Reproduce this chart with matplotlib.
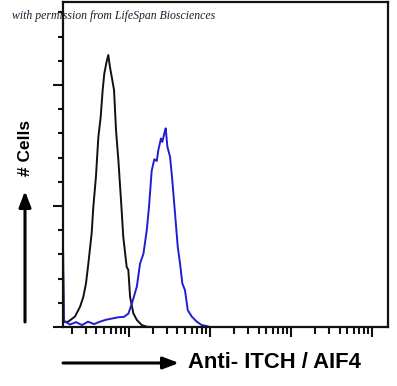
import matplotlib
matplotlib.use("Agg")
import matplotlib.pyplot as plt
from matplotlib.ticker import FixedLocator, NullFormatter, LogLocator, MultipleLocator
from matplotlib.patches import FancyArrowPatch

# ---- data ----
# isotype control (black): fluorescence intensity and cell count (relative units)
ctrl_x = [1.55, 1.58, 1.64, 1.79, 2.17, 2.51, 2.75, 2.97, 3.17, 3.49, 3.66, 3.94, 4.22,
          4.51, 4.77, 5.00, 5.35, 5.60, 5.87, 6.17, 6.59, 6.97, 7.45, 8.03, 8.57,
          9.44, 9.89, 10.4, 11.4, 12.6, 14.5, 16.8, 20.0]
ctrl_y = [3.10, 0.25, 0.20, 0.22, 0.43, 0.84, 1.24, 1.80, 2.60, 3.88, 4.97, 6.21, 7.85,
          8.68, 9.79, 10.48, 10.98, 11.24, 10.74, 10.34, 9.79, 8.14, 6.90, 5.25, 3.72,
          2.48, 2.36, 1.24, 0.57, 0.29, 0.08, 0.01, 0.0]

# Anti-ITCH / AIF4 stained (blue)
stain_x = [1.55, 1.58, 1.61, 1.88, 2.24, 2.65, 3.14, 3.73, 4.42, 5.24, 6.22, 7.38, 8.75,
           9.89, 10.9, 12.6, 13.8, 15.2, 16.7, 17.8, 19.2, 20.7, 22.2, 23.2, 25.0, 26.0,
           27.5, 28.6, 30.0, 32.4, 34.5, 37.3, 40.3, 43.0, 45.9, 49.5, 53.5, 60.0,
           69.2, 79.7, 91.8, 100.0]
stain_y = [2.23, 0.25, 0.25, 0.10, 0.20, 0.08, 0.22, 0.12, 0.22, 0.30, 0.35, 0.40, 0.42,
           0.55, 0.95, 1.67, 2.62, 3.03, 4.00, 4.97, 6.45, 6.93, 6.86, 7.31, 7.79, 7.65,
           8.00, 8.21, 7.45, 7.03, 6.07, 4.69, 3.31, 2.62, 1.80, 1.52, 0.70, 0.43,
           0.22, 0.08, 0.04, 0.0]

x_label = "Anti- ITCH / AIF4"
y_label = "# Cells"
credit = "with permission from LifeSpan Biosciences"

# ---- figure ----
W, H = 397, 386
fig = plt.figure(figsize=(W / 100, H / 100), dpi=100)
ax = fig.add_axes([63 / W, (H - 327) / H, (388 - 63) / W, (327 - 2) / H])

ax.plot(ctrl_x, ctrl_y, color="#111111", lw=1.4)
ax.plot(stain_x, stain_y, color="#1f1fcf", lw=1.4)

ax.set_xscale("log")
ax.set_xlim(10 ** 0.189, 10 ** 4.2)
ax.set_ylim(0, 13.43)

ax.xaxis.set_major_locator(FixedLocator([10, 100, 1000, 10000]))
ax.xaxis.set_minor_locator(LogLocator(base=10, subs=[2, 3, 4, 5, 6, 7, 8, 9], numticks=20))
ax.yaxis.set_major_locator(FixedLocator([0, 5, 10]))
ax.yaxis.set_minor_locator(MultipleLocator(1))
for a in (ax.xaxis, ax.yaxis):
    a.set_major_formatter(NullFormatter())
    a.set_minor_formatter(NullFormatter())

ax.tick_params(axis="x", which="major", direction="out", length=7, width=1.5, color="#111111")
ax.tick_params(axis="x", which="minor", direction="out", length=5, width=1.5, color="#111111")
ax.tick_params(axis="y", which="major", direction="out", length=7.5, width=1.5, color="#111111")
ax.tick_params(axis="y", which="minor", direction="out", length=3.6, width=1.5, color="#111111")

for s in ax.spines.values():
    s.set_linewidth(1.6)
    s.set_color("#111111")

arrow_style = "-|>,head_length=9.5,head_width=3.6"

# y label with arrow
fig.text(25 / W, 1 - 148 / H, y_label, rotation=90, ha="center", va="center",
         fontsize=12.5, fontweight="bold", family=["Liberation Sans", "DejaVu Sans"])
fig.add_artist(FancyArrowPatch(
    (25 / W, 1 - 322 / H), (25 / W, 1 - 191 / H), transform=fig.transFigure,
    arrowstyle=arrow_style, lw=2.2, color="black",
    shrinkA=0, shrinkB=0, mutation_scale=1))

# x label with arrow
fig.text(188 / W, 1 - 363 / H, x_label, ha="left", va="center",
         fontsize=15.8, fontweight="bold", family=["Liberation Sans", "DejaVu Sans"])
fig.add_artist(FancyArrowPatch(
    (63 / W, 1 - 363 / H), (179 / W, 1 - 363 / H), transform=fig.transFigure,
    arrowstyle=arrow_style, lw=2.2, color="black",
    shrinkA=0, shrinkB=0, mutation_scale=1))

# credit text
fig.text(12 / W, 1 - 16 / H, credit, ha="left", va="center", fontsize=8.5,
         style="italic", color="#1c1c30", family=["Liberation Serif", "DejaVu Serif"])

fig.savefig("out.png", dpi=100)
